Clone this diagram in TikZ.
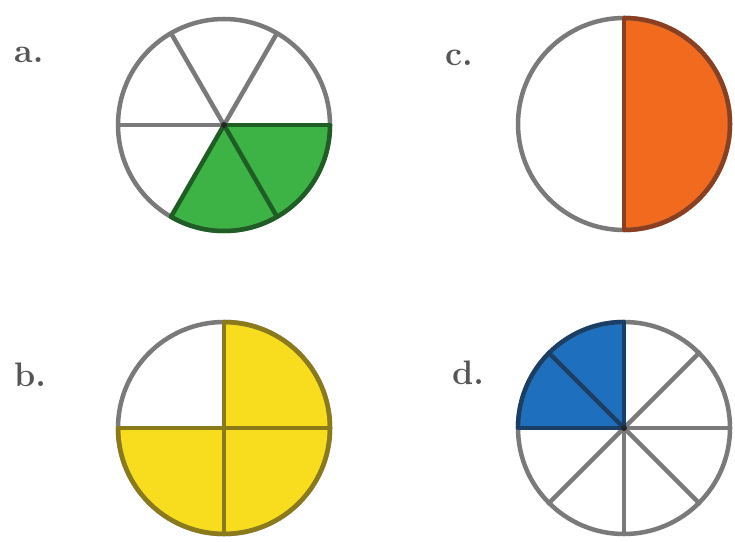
\documentclass[tikz,border=0pt]{standalone}
\begin{document}
\begin{tikzpicture}[x=1pt,y=1pt,
  rim/.style={draw=linegray,line width=4.5pt},
  spoke/.style={draw=linegray,line width=4.5pt,line cap=round},
  lbl/.style={anchor=base west,inner sep=0pt,text=labelgray,font=\fontsize{34}{34}\selectfont\bfseries}]
\definecolor{linegray}{HTML}{7A7A7A}
\definecolor{labelgray}{HTML}{555555}
\definecolor{gfill}{HTML}{3DB346}
\definecolor{gline}{HTML}{1E5E24}
\definecolor{ofill}{HTML}{F26A1E}
\definecolor{oline}{HTML}{8A4020}
\definecolor{yfill}{HTML}{F8DC1E}
\definecolor{yline}{HTML}{8A7A1A}
\definecolor{bfill}{HTML}{1F6FBF}
\definecolor{bline}{HTML}{1A3F66}
\useasboundingbox[fill=white] (0,0) rectangle (735,541);
\def\R{106}
% centres
\coordinate (A) at (224,416);
\coordinate (C) at (624,417);
\coordinate (B) at (224,113);
\coordinate (D) at (624,113);
% ---- a ----
\fill[gfill] (A) -- ++(0:\R) arc[start angle=0,end angle=-120,radius=\R] -- cycle;
\draw[rim] (A) circle[radius=\R];
\foreach \a in {0,60,120,180} \draw[spoke] (A) -- ++(\a:\R);
\foreach \a in {240,300,360} \draw[spoke,draw=gline] (A) -- ++(\a:\R);
\draw[gline,line width=4.5pt] (A) ++(0:\R) arc[start angle=0,end angle=-120,radius=\R];
\fill[black!85] (A) circle[radius=3];
% ---- c ----
\fill[ofill] (C) -- ++(90:\R) arc[start angle=90,end angle=-90,radius=\R] -- cycle;
\draw[rim] (C) circle[radius=\R];
\draw[oline,line width=4.5pt] (C) ++(90:\R) arc[start angle=90,end angle=-90,radius=\R];
\draw[spoke,draw=oline] (C) ++(90:\R) -- ++(0,-2*\R);
% ---- b ----
\fill[yfill] (B) -- ++(90:\R) arc[start angle=90,end angle=-180,radius=\R] -- cycle;
\draw[rim] (B) circle[radius=\R];
\draw[yline,line width=4.5pt] (B) ++(90:\R) arc[start angle=90,end angle=-180,radius=\R];
\draw[spoke,draw=yline] (B) ++(90:\R) -- ++(0,-2*\R);
\draw[spoke,draw=yline] (B) ++(180:\R) -- ++(2*\R,0);
% ---- d ----
\fill[bfill] (D) -- ++(90:\R) arc[start angle=90,end angle=180,radius=\R] -- cycle;
\draw[rim] (D) circle[radius=\R];
\foreach \a in {0,45,...,315} \draw[spoke] (D) -- ++(\a:\R);
\foreach \a in {90,135,180} \draw[spoke,draw=bline] (D) -- ++(\a:\R);
\draw[bline,line width=4.5pt] (D) ++(90:\R) arc[start angle=90,end angle=180,radius=\R];
\fill[black!85] (D) circle[radius=3];
% ---- labels ----
\node[lbl] (la) at (14,478) {a.};
\node[lbl] (lc) at (445,475) {c.};
\node[lbl] (lb) at (14,155) {b.};
\node[lbl] (ld) at (452,157) {d.};
\end{tikzpicture}
\end{document}
